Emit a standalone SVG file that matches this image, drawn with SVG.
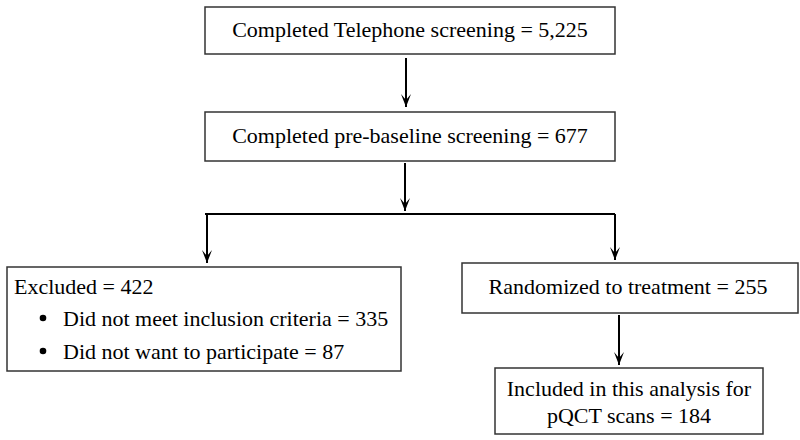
<svg xmlns="http://www.w3.org/2000/svg" width="800" height="440" viewBox="0 0 800 440">
<style>
.box{fill:#fff;stroke:#333;stroke-width:1.5}
.t{font-family:'Liberation Serif','DejaVu Serif','Times New Roman',serif;font-size:22px;fill:#000}
.c{text-anchor:middle}
.ln{fill:none;stroke:#000;stroke-width:2}
</style>
<defs>
<marker id="ah" markerWidth="14" markerHeight="10" refX="13" refY="5" orient="auto" markerUnits="userSpaceOnUse" viewBox="0 0 14 10">
<path d="M0,0 L13,5 L0,10 L6,5 Z" fill="#000"/>
</marker>
</defs>
<rect width="800" height="440" fill="#fff"/>
<g id="connectors">
<line class="ln" x1="406" y1="58" x2="406" y2="107" marker-end="url(#ah)"/>
<line class="ln" x1="405" y1="163" x2="405" y2="211" marker-end="url(#ah)"/>
<polyline class="ln" points="205,214 615,214"/>
<line class="ln" x1="207" y1="214" x2="207" y2="263" marker-end="url(#ah)"/>
<line class="ln" x1="615" y1="214" x2="615" y2="260" marker-end="url(#ah)"/>
<line class="ln" x1="619" y1="315" x2="619" y2="365" marker-end="url(#ah)"/>
</g>
<g id="n1">
<rect class="box" x="205" y="7" width="410" height="47"/>
<text class="t c" x="410" y="37">Completed Telephone screening = 5,225</text>
</g>
<g id="n2">
<rect class="box" x="205" y="112" width="410" height="49"/>
<text class="t c" x="410" y="143">Completed pre-baseline screening = 677</text>
</g>
<g id="n3">
<rect class="box" x="7" y="267" width="394" height="104"/>
<text class="t" x="14" y="294">Excluded = 422</text>
<circle cx="43" cy="318" r="3.3" fill="#000"/>
<text class="t" x="63" y="326">Did not meet inclusion criteria = 335</text>
<circle cx="43" cy="351" r="3.3" fill="#000"/>
<text class="t" x="63" y="359">Did not want to participate = 87</text>
</g>
<g id="n4">
<rect class="box" x="462" y="263" width="336" height="50"/>
<text class="t c" x="628" y="294">Randomized to treatment = 255</text>
</g>
<g id="n5">
<rect class="box" x="495" y="368" width="268" height="66"/>
<text class="t c" x="629" y="396">Included in this analysis for</text>
<text class="t c" x="629" y="423">pQCT scans = 184</text>
</g>
</svg>
